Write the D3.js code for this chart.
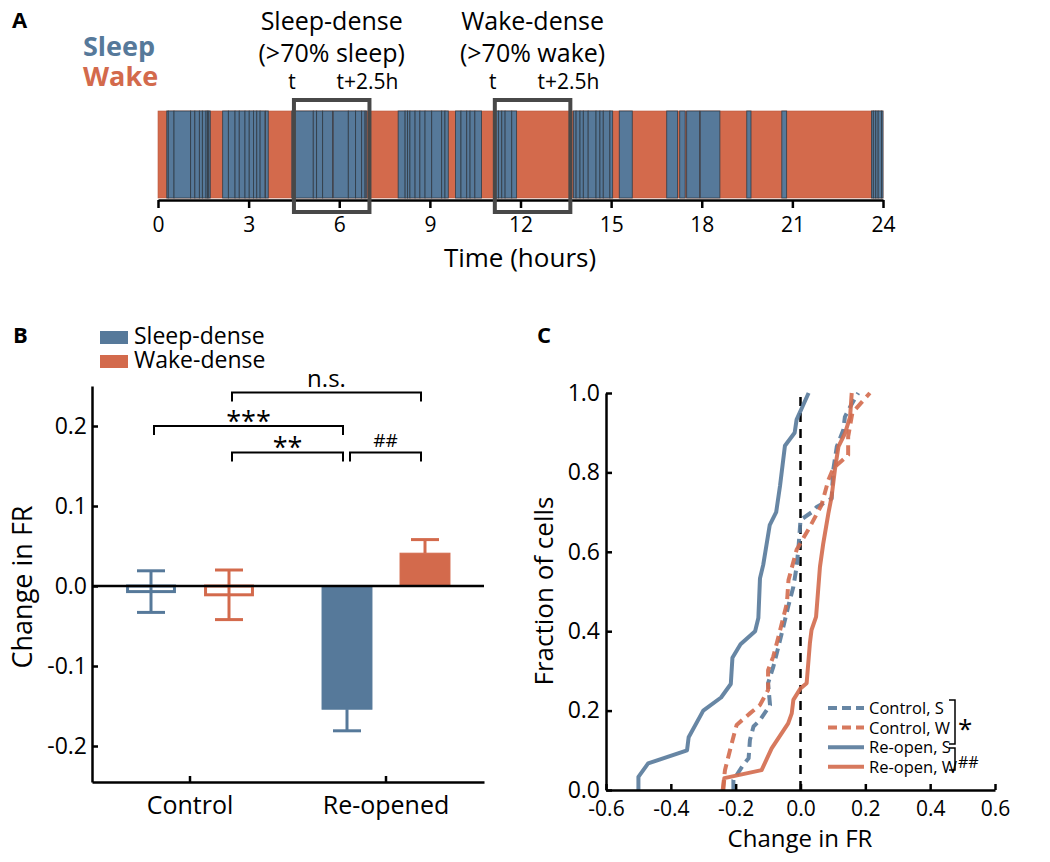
<!DOCTYPE html>
<html><head><meta charset="utf-8">
<script src="https://cdn.jsdelivr.net/npm/d3@7"></script>
<style>
body{margin:0;background:#fff;}
svg{display:block;font-family:"Open Sans",sans-serif;}
</style></head>
<body>
<svg id="chart" width="1050" height="862"></svg>
<script>
// ---------- DATA ----------
// Panel A: sleep bouts (hours); everything else is wake
const sleepBouts = [
 [0.29,0.34],[0.34,0.53],[0.53,1.08],[1.08,1.22],[1.22,1.37],[1.37,1.47],[1.47,1.59],[1.59,1.64],[1.64,1.68],[1.68,1.73],
 [2.14,2.33],[2.33,2.55],[2.55,2.69],[2.69,2.88],[2.88,3.02],[3.02,3.16],[3.16,3.27],[3.27,3.38],[3.38,3.54],[3.56,3.65],
 [4.43,5.14],[5.14,5.25],[5.25,5.45],[5.45,5.78],[5.80,6.30],[6.30,6.54],[6.54,6.74],[6.74,6.85],[6.86,6.91],
 [7.95,8.18],[8.18,8.26],[8.26,8.34],[8.34,8.51],[8.51,8.67],[8.67,8.84],[8.84,9.06],[9.06,9.39],[9.39,9.50],[9.50,9.61],
 [9.85,10.03],[10.03,10.22],[10.22,10.33],[10.33,10.49],[10.49,10.71],
 [11.15,11.27],[11.27,11.38],[11.38,11.49],[11.49,11.71],[11.71,11.87],
 [13.75,13.84],[13.84,13.97],[13.97,14.08],[14.08,14.24],[14.24,14.50],[14.50,14.63],[14.63,14.74],[14.74,14.96],[14.96,15.05],
 [15.27,15.70],
 [16.84,17.20],[17.27,17.45],[17.50,17.93],[17.95,18.60],
 [19.49,19.63],[20.65,20.81],
 [23.62,23.68],[23.68,23.76],[23.76,23.84],[23.84,23.95],[23.95,24.0]
];
const hourTicks = [0,3,6,9,12,15,18,21,24];
const windows = [
 {title:"Sleep-dense", sub:"(>70% sleep)", start:4.5, end:7.0},
 {title:"Wake-dense",  sub:"(>70% wake)",  start:11.15, end:13.65}
];

// Panel B
const groups = ["Control","Re-opened"];
const conditions = ["Sleep-dense","Wake-dense"];
const meanControl = [-0.007, -0.011];
const semControl  = [0.026, 0.031];
const meanReopen  = [-0.154, 0.041];
const semReopen   = [0.027, 0.017];
const bTicks = [-0.2,-0.1,0.0,0.1,0.2];
const sigB = [
 {from:["Control","Wake-dense"], to:["Re-opened","Wake-dense"], level:0.242, label:"n.s."},
 {from:["Control","Sleep-dense"], to:["Re-opened","Sleep-dense"], level:0.200, label:"***"},
 {from:["Control","Wake-dense"], to:["Re-opened","Sleep-dense"], level:0.167, label:"**"},
 {from:["Re-opened","Sleep-dense"], to:["Re-opened","Wake-dense"], level:0.167, label:"##"}
];

// Panel C: cumulative distributions [change in FR, fraction]
const controlS = [[-0.207,0.0],[-0.207,0.025],[-0.177,0.063],[-0.16,0.08],[-0.156,0.126],[-0.145,0.16],[-0.125,0.176],[-0.094,0.214],[-0.10,0.269],[-0.084,0.31],[-0.068,0.361],[-0.053,0.411],[-0.038,0.462],[-0.022,0.512],[-0.012,0.562],[-0.006,0.613],[0.0,0.68],[0.035,0.70],[0.05,0.713],[0.096,0.734],[0.101,0.806],[0.112,0.865],[0.132,0.907],[0.137,0.94],[0.153,0.965],[0.178,1.0]];
const controlW = [[-0.24,0.0],[-0.233,0.05],[-0.212,0.118],[-0.197,0.164],[-0.156,0.193],[-0.125,0.214],[-0.10,0.252],[-0.10,0.302],[-0.084,0.336],[-0.068,0.386],[-0.042,0.47],[-0.037,0.529],[-0.012,0.605],[0.029,0.663],[0.065,0.718],[0.086,0.781],[0.101,0.81],[0.147,0.844],[0.147,0.89],[0.16,0.95],[0.214,1.0]];
const reopenS = [[-0.50,0.0],[-0.50,0.033],[-0.47,0.067],[-0.35,0.10],[-0.345,0.133],[-0.30,0.20],[-0.245,0.233],[-0.215,0.267],[-0.21,0.333],[-0.185,0.367],[-0.14,0.40],[-0.13,0.433],[-0.125,0.533],[-0.115,0.567],[-0.095,0.667],[-0.075,0.70],[-0.063,0.767],[-0.048,0.867],[-0.018,0.90],[-0.012,0.933],[0.025,1.0]];
const reopenW = [[-0.238,0.0],[-0.235,0.03],[-0.12,0.05],[-0.089,0.105],[-0.038,0.168],[-0.027,0.193],[-0.022,0.227],[0.0,0.256],[0.019,0.269],[0.029,0.37],[0.034,0.403],[0.048,0.436],[0.06,0.562],[0.07,0.62],[0.086,0.697],[0.096,0.739],[0.106,0.806],[0.117,0.865],[0.137,0.898],[0.153,0.94],[0.158,1.0]];
const cSeries = [
 {name:"Control, S", data:controlS, cond:"S", dashed:true},
 {name:"Control, W", data:controlW, cond:"W", dashed:true},
 {name:"Re-open, S", data:reopenS, cond:"S", dashed:false},
 {name:"Re-open, W", data:reopenW, cond:"W", dashed:false}
];
const cxTicks = [-0.6,-0.4,-0.2,0.0,0.2,0.4,0.6];
const cyTicks = [0.0,0.2,0.4,0.6,0.8,1.0];

// ---------- STYLE ----------
const BLUE = "#56799a", ORANGE = "#d36a4c";
const svg = d3.select("#chart");
svg.append("rect").attr("width",1050).attr("height",862).attr("fill","#fff");
const fmt = d => (Math.abs(d) < 1e-9 ? 0 : d).toFixed(1);

function styleAxis(g, size){
  g.select(".domain").attr("stroke","#000").attr("stroke-width",2.5);
  g.selectAll(".tick line").attr("stroke","#000").attr("stroke-width",2.5);
  g.selectAll(".tick text").attr("fill","#000").attr("font-size",size).attr("font-family","Open Sans");
}

// ---------- PANEL A ----------
const xA = d3.scaleLinear().domain([0,24]).range([158,883]);
const aTop = 111, aBot = 198;
const gA = svg.append("g");
gA.append("rect").attr("x",xA(0)).attr("y",aTop).attr("width",xA(24)-xA(0)).attr("height",aBot-aTop)
  .attr("fill",ORANGE).attr("stroke","#b8583c").attr("stroke-width",0.6);
gA.selectAll("rect.bout").data(sleepBouts).join("rect").attr("class","bout")
  .attr("x",d=>xA(d[0])).attr("y",aTop).attr("width",d=>xA(d[1])-xA(d[0])).attr("height",aBot-aTop)
  .attr("fill",BLUE).attr("stroke","#2e3a44").attr("stroke-width",0.9).attr("stroke-opacity",0.85);
const axA = gA.append("g").attr("transform","translate(0,200)")
  .call(d3.axisBottom(xA).tickValues(hourTicks).tickFormat(d3.format("d")).tickSize(8).tickSizeOuter(0).tickPadding(9));
styleAxis(axA,21);
gA.append("text").attr("x",520).attr("y",267).attr("text-anchor","middle").attr("font-size",26).text("Time (hours)");

windows.forEach(w=>{
  const x0 = xA(w.start), x1 = xA(w.end), cx = (x0+x1)/2;
  gA.append("rect").attr("x",x0).attr("y",100).attr("width",x1-x0).attr("height",112)
    .attr("fill","none").attr("stroke","#484848").attr("stroke-width",4);
  gA.append("text").attr("x",cx).attr("y",30).attr("text-anchor","middle").attr("font-size",25).text(w.title);
  gA.append("text").attr("x",cx).attr("y",62).attr("text-anchor","middle").attr("font-size",25).text(w.sub);
  gA.append("text").attr("x",x0-2).attr("y",89).attr("text-anchor","middle").attr("font-size",21).text("t");
  gA.append("text").attr("x",x1-2).attr("y",89).attr("text-anchor","middle").attr("font-size",21).text("t+2.5h");
});
svg.append("text").attr("x",12).attr("y",28).attr("font-size",22).attr("font-weight","bold").text("A");
svg.append("text").attr("x",83).attr("y",56).attr("font-size",27).attr("font-weight","bold").attr("fill",BLUE).text("Sleep");
svg.append("text").attr("x",83).attr("y",86).attr("font-size",27).attr("font-weight","bold").attr("fill",ORANGE).text("Wake");

// ---------- PANEL B ----------
const yB = d3.scaleLinear().domain([-0.245,0.25]).range([782,386]);
const x0B = d3.scaleBand().domain(groups).range([92,484]);
const x1B = d3.scaleBand().domain(conditions).range([20,176]).paddingInner(0.36).paddingOuter(0.18);
const colorB = d3.scaleOrdinal().domain(conditions).range([BLUE,ORANGE]);
const bData = [];
groups.forEach((g,gi)=>conditions.forEach((c,ci)=>{
  const m = gi===0 ? meanControl[ci] : meanReopen[ci];
  const s = gi===0 ? semControl[ci] : semReopen[ci];
  bData.push({group:g, cond:c, mean:m, sem:s, hollow: gi===0});
}));
const gB = svg.append("g");
const cxB = (g,c) => x0B(g) + x1B(c) + x1B.bandwidth()/2;
// error bars
bData.forEach(d=>{
  const cx = cxB(d.group,d.cond);
  const both = Math.abs(d.mean) < d.sem;
  const lo = both ? d.mean - d.sem : (d.mean<0 ? d.mean - d.sem : d.mean);
  const hi = both ? d.mean + d.sem : (d.mean<0 ? d.mean : d.mean + d.sem);
  gB.append("line").attr("x1",cx).attr("x2",cx).attr("y1",yB(lo)).attr("y2",yB(hi))
    .attr("stroke",colorB(d.cond)).attr("stroke-width",3);
  const caps = both ? [lo,hi] : [d.mean<0 ? lo : hi];
  caps.forEach(v=>gB.append("line").attr("x1",cx-14).attr("x2",cx+14).attr("y1",yB(v)).attr("y2",yB(v))
    .attr("stroke",colorB(d.cond)).attr("stroke-width",3));
});
gB.selectAll("rect.bar").data(bData).join("rect").attr("class","bar")
  .attr("x",d=>x0B(d.group)+x1B(d.cond) + (d.hollow?1.5:0))
  .attr("width",d=>x1B.bandwidth() - (d.hollow?3:0))
  .attr("y",d=>yB(Math.max(0,d.mean)))
  .attr("height",d=>Math.abs(yB(d.mean)-yB(0)))
  .attr("fill",d=>d.hollow?"#fff":colorB(d.cond))
  .attr("fill-opacity",d=>d.hollow?0:1)
  .attr("stroke",d=>colorB(d.cond)).attr("stroke-width",d=>d.hollow?3:1);
// zero line
gB.append("line").attr("x1",92).attr("x2",484).attr("y1",yB(0)).attr("y2",yB(0)).attr("stroke","#000").attr("stroke-width",2.5);
const ayB = gB.append("g").attr("transform","translate(92,0)")
  .call(d3.axisLeft(yB).tickValues(bTicks).tickFormat(fmt).tickSizeInner(-6).tickSizeOuter(0).tickPadding(5));
styleAxis(ayB,23);
const axB = gB.append("g").attr("transform","translate(0,782)")
  .call(d3.axisBottom(x0B).tickSizeInner(-6).tickSizeOuter(0).tickPadding(14));
styleAxis(axB,25);
gB.append("text").attr("transform","translate(32,587) rotate(-90)").attr("text-anchor","middle").attr("font-size",27).text("Change in FR");
// significance
sigB.forEach(s=>{
  const xa = cxB(s.from[0],s.from[1]) + 3, xb = cxB(s.to[0],s.to[1]) - 4, y = yB(s.level);
  gB.append("path").attr("d",`M${xa},${y+9}V${y}H${xb}V${y+9}`).attr("fill","none").attr("stroke","#000").attr("stroke-width",2);
  const t = gB.append("text").attr("x",(xa+xb)/2).attr("text-anchor","middle").text(s.label);
  if (s.label==="n.s.") t.attr("y",y-5).attr("font-size",24);
  else if (s.label==="##") t.attr("y",y-5).attr("font-size",19);
  else t.attr("y",y+5).attr("font-size",27);
});
svg.append("text").attr("x",13).attr("y",343).attr("font-size",22).attr("font-weight","bold").text("B");
conditions.forEach((c,i)=>{
  svg.append("rect").attr("x",100).attr("y",331+i*24).attr("width",28).attr("height",13).attr("fill",colorB(c));
  svg.append("text").attr("x",134).attr("y",344+i*24).attr("font-size",23).text(c);
});

// ---------- PANEL C ----------
const xC = d3.scaleLinear().domain([-0.6,0.6]).range([606,995]);
const yC = d3.scaleLinear().domain([0,1]).range([790,393]);
const gC = svg.append("g");
gC.append("line").attr("x1",xC(0)).attr("x2",xC(0)).attr("y1",yC(0)).attr("y2",yC(1))
  .attr("stroke","#000").attr("stroke-width",2.5).attr("stroke-dasharray","9,7");
const line = d3.line().x(d=>xC(d[0])).y(d=>yC(d[1]));
cSeries.forEach(s=>{
  gC.append("path").attr("d",line(s.data)).attr("fill","none")
    .attr("stroke",s.cond==="S"?BLUE:ORANGE).attr("stroke-width",4).attr("stroke-opacity",0.9)
    .attr("stroke-linejoin","round")
    .attr("stroke-dasharray",s.dashed?"10,6":null);
});
const ayC = gC.append("g").attr("transform","translate(606,0)")
  .call(d3.axisLeft(yC).tickValues(cyTicks).tickFormat(fmt).tickSizeInner(-6).tickSizeOuter(0).tickPadding(6));
styleAxis(ayC,23);
const axC = gC.append("g").attr("transform","translate(0,790)")
  .call(d3.axisBottom(xC).tickValues(cxTicks).tickFormat(fmt).tickSizeInner(-6).tickSizeOuter(0).tickPadding(11));
styleAxis(axC,21);
gC.append("text").attr("transform","translate(553,591) rotate(-90)").attr("text-anchor","middle").attr("font-size",26).text("Fraction of cells");
gC.append("text").attr("x",800).attr("y",847).attr("text-anchor","middle").attr("font-size",24).text("Change in FR");
svg.append("text").attr("x",537).attr("y",343).attr("font-size",22).attr("font-weight","bold").text("C");
// legend
cSeries.forEach((s,i)=>{
  const y = 708 + i*19.6;
  gC.append("line").attr("x1",828).attr("x2",864).attr("y1",y).attr("y2",y)
    .attr("stroke",s.cond==="S"?BLUE:ORANGE).attr("stroke-width",4).attr("stroke-opacity",0.9)
    .attr("stroke-dasharray",s.dashed?"9,5":null);
  gC.append("text").attr("x",869).attr("y",y+6).attr("font-size",16.5).text(s.name);
});
// legend significance brackets
gC.append("path").attr("d","M949,700H955V744H949").attr("fill","none").attr("stroke","#000").attr("stroke-width",1.5);
gC.append("text").attr("x",958).attr("y",738).attr("font-size",26).text("*");
gC.append("path").attr("d","M949,748H955V770H949").attr("fill","none").attr("stroke","#000").attr("stroke-width",1.5);
gC.append("text").attr("x",958).attr("y",768).attr("font-size",16).text("##");
</script>
</body></html>
